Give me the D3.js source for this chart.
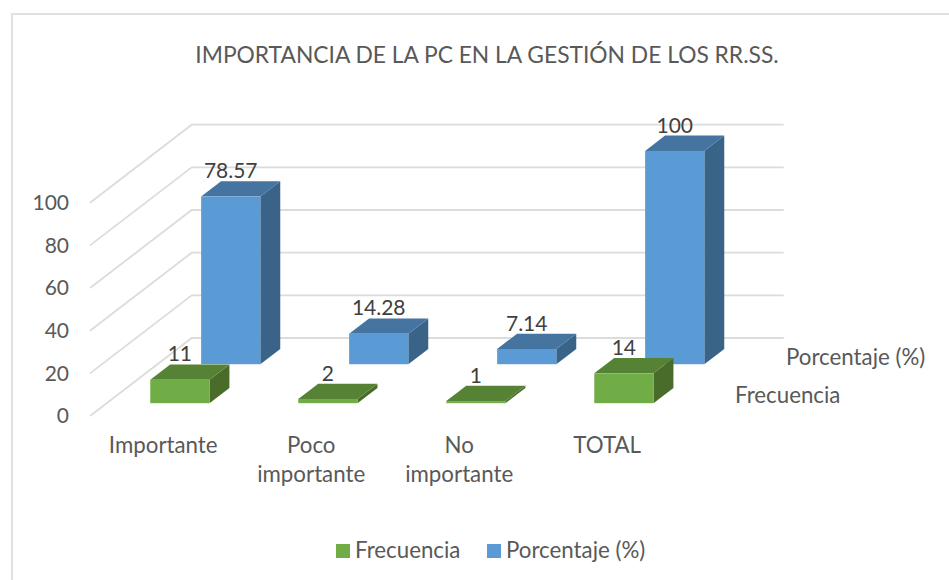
<!DOCTYPE html>
<html><head><meta charset="utf-8">
<script src="https://cdn.jsdelivr.net/npm/d3@7/dist/d3.min.js"></script>
<style>html,body{margin:0;padding:0;background:#fff}svg{display:block}text{font-family:Lato,"Open Sans",sans-serif}</style>
</head><body><svg id="c" width="949" height="580"></svg>
<script>
const categories = ["Importante", "Poco importante", "No importante", "TOTAL"];
const categoryLines = [["Importante"], ["Poco", "importante"], ["No", "importante"], ["TOTAL"]];
const seriesNames = ["Frecuencia", "Porcentaje (%)"];
const frecuencia = [11, 2, 1, 14];
const porcentaje = [78.57, 14.28, 7.14, 100];
const yTicks = [0, 20, 40, 60, 80, 100];
const title = "IMPORTANCIA DE LA PC EN LA GESTIÓN DE LOS RR.SS.";

const svg = d3.select("#c");
const FONT = 21, LABEL_FONT = 22.3;
const seriesColors = {
  "Frecuencia": {front: "#70AD47", top: "#568235", side: "#4A6C2A"},
  "Porcentaje (%)": {front: "#5B9BD5", top: "#44749F", side: "#3A6388"}
};

// Frame
svg.append("rect").attr("x", 12).attr("y", 14).attr("width", 1000).attr("height", 700)
  .attr("fill", "#fff").attr("stroke", "#e0e0e0").attr("stroke-width", 2);

// Scales: x and value on the front plane, z is the depth axis (0 front, 1 back wall)
const x = d3.scaleBand().domain(categories).range([89.2, 681.2]).paddingInner(0.6).paddingOuter(0.3);
const y = d3.scaleLinear().domain([0, 100]).range([416, 202.7]);
const z = d3.scaleBand().domain(seriesNames).range([0.012, 1.012]).paddingInner(0.608).paddingOuter(0.304);
const DX = 101.7, DY = 78;
const project = (px, v, d) => [px + DX * d, y(v) - DY * d];
const line = d3.line();

// Gridlines: floor-to-wall diagonal, then along the back wall
const gridLeft = 90, gridRight = 682;
svg.append("g").selectAll("path").data(yTicks).join("path")
  .attr("d", t => line([project(gridLeft, t, 0), project(gridLeft, t, 1), project(gridRight, t, 1)]))
  .attr("fill", "none").attr("stroke", "#dcdcdc").attr("stroke-width", 1.8);

// Value axis
const yAxis = svg.append("g").attr("transform", "translate(75,0)")
  .call(d3.axisLeft(y).tickValues(yTicks).tickSize(0).tickPadding(6).tickFormat(d3.format("d")));
yAxis.select(".domain").remove();
yAxis.selectAll("text").attr("font-size", FONT).attr("fill", "#595959").attr("dy", "0.32em");

// Category axis
const xAxis = svg.append("g").call(d3.axisBottom(x).tickSize(0));
xAxis.select(".domain").remove();
xAxis.selectAll("text").each(function (c, i) {
  const t = d3.select(this).text(null).attr("y", 0).attr("dy", null)
    .attr("font-size", LABEL_FONT).attr("fill", "#595959").attr("text-anchor", "middle");
  categoryLines[i].forEach((s, j) => t.append("tspan").attr("x", 0).attr("y", 453 + j * 29).text(s));
});

// Bars: back series first, left to right
const rows = [
  {name: "Porcentaje (%)", values: porcentaje},
  {name: "Frecuencia", values: frecuencia}
];
const labels = [];
rows.forEach(r => {
  const col = seriesColors[r.name];
  const d0 = z(r.name), d1 = d0 + z.bandwidth();
  const g = svg.append("g");
  r.values.forEach((v, i) => {
    const l = x(categories[i]), rt = l + x.bandwidth();
    const cell = g.append("g");
    cell.append("path").attr("fill", col.side)
      .attr("d", line([project(rt, 0, d0), project(rt, 0, d1), project(rt, v, d1), project(rt, v, d0)]) + "Z");
    cell.append("path").attr("fill", col.top)
      .attr("d", line([project(l, v, d0), project(l, v, d1), project(rt, v, d1), project(rt, v, d0)]) + "Z");
    const a = project(l, v, d0), b = project(rt, 0, d0);
    cell.append("rect").attr("x", a[0]).attr("y", a[1]).attr("width", b[0] - a[0]).attr("height", b[1] - a[1])
      .attr("fill", col.front);
    labels.push({text: String(v), x: (a[0] + b[0]) / 2, y: a[1] - DY * z.bandwidth() - 3});
  });
});

// Data labels
svg.append("g").selectAll("text").data(labels).join("text")
  .attr("x", d => d.x).attr("y", d => d.y).attr("text-anchor", "middle")
  .attr("font-size", FONT).attr("fill", "#404040").text(d => d.text);

// Depth axis labels
const depthPos = {"Frecuencia": [735, 403], "Porcentaje (%)": [786, 365]};
svg.append("g").selectAll("text").data(seriesNames).join("text")
  .attr("x", d => depthPos[d][0]).attr("y", d => depthPos[d][1])
  .attr("font-size", LABEL_FONT).attr("fill", "#595959").text(d => d);

// Title
svg.append("text").attr("x", 487).attr("y", 63).attr("text-anchor", "middle")
  .attr("font-size", 22.8).attr("fill", "#595959").text(title);

// Legend
const legendX = {"Frecuencia": 336, "Porcentaje (%)": 487};
const lg = svg.append("g").selectAll("g").data(seriesNames).join("g");
lg.append("rect").attr("x", d => legendX[d]).attr("y", 544).attr("width", 14).attr("height", 14)
  .attr("fill", d => seriesColors[d].front);
lg.append("text").attr("x", d => legendX[d] + 19).attr("y", 558)
  .attr("font-size", LABEL_FONT).attr("fill", "#595959").text(d => d);
</script></body></html>
